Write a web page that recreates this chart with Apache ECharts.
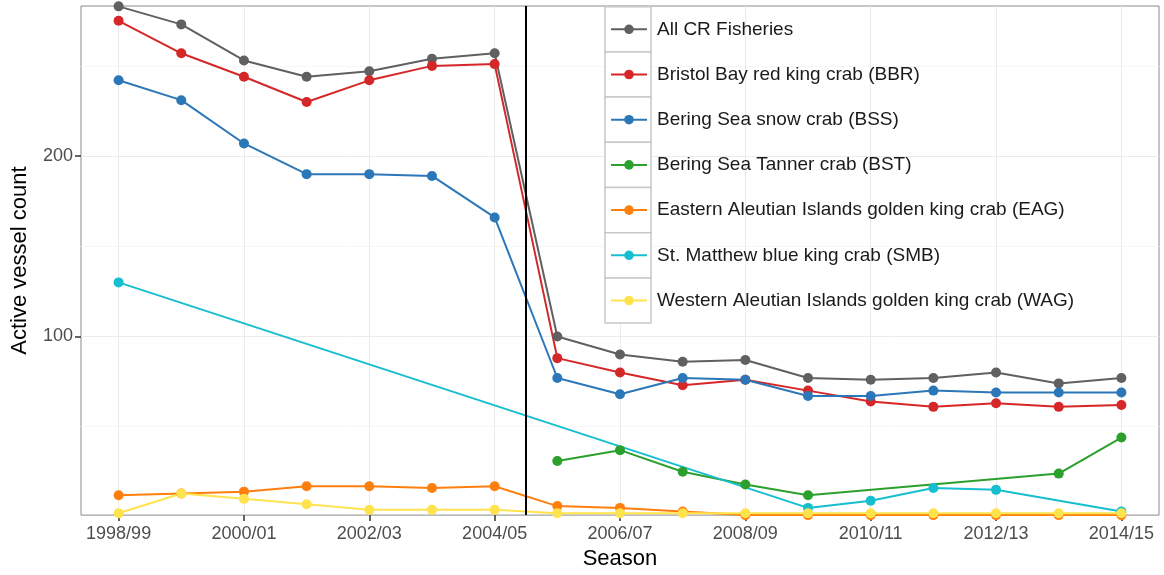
<!DOCTYPE html>
<html><head><meta charset="utf-8">
<script src="https://cdn.jsdelivr.net/npm/echarts@6/dist/echarts.min.js"></script>
<style>html,body{margin:0;padding:0;background:#fff}#chart{width:1164px;height:575px}</style>
</head><body><div id="chart"></div>
<script>
// ---- data ----
const seasons = ['1998/99','1999/00','2000/01','2001/02','2002/03','2003/04','2004/05','2005/06','2006/07','2007/08','2008/09','2009/10','2010/11','2011/12','2012/13','2013/14','2014/15'];
const seriesNames = ['All CR Fisheries','Bristol Bay red king crab (BBR)','Bering Sea snow crab (BSS)','Bering Sea Tanner crab (BST)','Eastern Aleutian Islands golden king crab (EAG)','St. Matthew blue king crab (SMB)','Western Aleutian Islands golden king crab (WAG)'];
const allCR = [283, 273, 253, 244, 247, 254, 257, 100, 90, 86, 87, 77, 76, 77, 80, 74, 77];
const bbr   = [275, 257, 244, 230, 242, 250, 251, 88, 80, 73, 76, 70, 64, 61, 63, 61, 62];
const bss   = [242, 231, 207, 190, 190, 189, 166, 77, 68, 77, 76, 67, 67, 70, 69, 69, 69];
const bst   = [null, null, null, null, null, null, null, 31, 37, 25, 18, 12, null, null, null, 24, 44];
const eag   = [12, 13, 14, 17, 17, 16, 17, 6, 5, 3, 1, 1, 1, 1, 1, 1, 1];
const smb   = [130, null, null, null, null, null, null, null, null, null, null, 5, 9, 16, 15, null, 3];
const wag   = [2, 13, 10, 7, 4, 4, 4, 2, 2, 2, 2, 2, 2, 2, 2, 2, 2];
const yMajorTicks = [100, 200];
const yMinorTicks = [50, 150, 250];
const dividerAt = 6.5; // between 2004/05 and 2005/06
const yMin = 1, yMax = 283.2;

// ---- styles / layout ----
const colors = ['#606060', '#d62728', '#2b77b8', '#2ca02c', '#ff7f0e', '#17becf', '#ffe34d'];
const FONT = "'Liberation Sans', Arial, Helvetica, sans-serif";
const legendLeft = 610, rowH = 45.2, firstRowCenter = 29.3, keyBoxX = 605, keyBoxW = 46;
const xTickIdx = seasons.map((s, i) => i).filter(i => i % 2 === 0);

const allValues = [allCR, bbr, bss, bst, eag, smb, wag];

const series = allValues.map((vals, k) => ({
  name: seriesNames[k],
  type: 'line',
  data: vals.map((v, i) => [i, v]),
  symbol: 'circle',
  symbolSize: 10,
  connectNulls: true,
  lineStyle: { width: 2, color: colors[k] },
  itemStyle: { color: colors[k] },
  emphasis: { disabled: true },
  z: 2
}));
series.push({
  type: 'line', data: [], z: 5, silent: true,
  markLine: {
    silent: true, symbol: ['none', 'none'], label: { show: false },
    lineStyle: { color: '#000', width: 2, type: 'solid' },
    data: [{ xAxis: dividerAt }]
  }
});

const keyBoxes = seriesNames.map((n, i) => ({
  type: 'rect', z: 3, silent: true,
  shape: { x: keyBoxX, y: firstRowCenter - rowH / 2 + i * rowH, width: keyBoxW, height: rowH },
  style: { fill: '#ffffff', stroke: '#c8c8c8', lineWidth: 1.5 }
}));

const chart = echarts.init(document.getElementById('chart'), null, { renderer: 'canvas' });
chart.setOption({
  animation: false,
  textStyle: { fontFamily: FONT },
  color: colors,
  grid: { left: 81, right: 5, top: 6, bottom: 59, show: true, borderColor: '#8a8a8a', borderWidth: 1, backgroundColor: 'transparent' },
  xAxis: [{
    type: 'value', min: -0.6, max: seasons.length - 1 + 0.6,
    axisLine: { show: false, onZero: false },
    axisTick: { show: true, customValues: xTickIdx, length: 6, lineStyle: { color: '#333', width: 1.5 } },
    axisLabel: { customValues: xTickIdx, formatter: v => seasons[Math.round(v)] || '', fontSize: 18, color: '#4d4d4d', margin: 10, fontFamily: FONT },
    splitLine: { show: true, lineStyle: { color: '#ebebeb', width: 1 } },
    name: 'Season', nameLocation: 'middle', nameGap: 32,
    nameTextStyle: { fontSize: 22, color: '#000', fontFamily: FONT }
  }],
  yAxis: [{
    type: 'value', min: yMin, max: yMax,
    axisLine: { show: false, onZero: false },
    axisTick: { show: true, customValues: yMajorTicks, length: 6, lineStyle: { color: '#333', width: 1.5 } },
    axisLabel: { customValues: yMajorTicks, fontSize: 18, color: '#4d4d4d', margin: 8, fontFamily: FONT },
    splitLine: { show: true, lineStyle: { color: '#ebebeb', width: 1 } },
    name: 'Active vessel count', nameLocation: 'middle', nameGap: 50, nameRotate: 90,
    nameTextStyle: { fontSize: 22, color: '#000', fontFamily: FONT }
  }, {
    type: 'value', min: yMin, max: yMax, position: 'left',
    axisLine: { show: false, onZero: false },
    axisTick: { show: false, customValues: yMinorTicks },
    axisLabel: { show: false },
    splitLine: { show: true, lineStyle: { color: '#f6f6f6', width: 1 } }
  }],
  legend: {
    orient: 'vertical', left: legendLeft, top: firstRowCenter - 11, padding: 0,
    itemWidth: 36, itemHeight: 12, itemGap: rowH - 22,
    textStyle: { fontSize: 19, color: '#1a1a1a', lineHeight: 22, padding: [0, 0, 0, 5], fontFamily: FONT },
    data: seriesNames, selectedMode: false, z: 4
  },
  graphic: { elements: keyBoxes },
  series: series
});
</script>
</body></html>
